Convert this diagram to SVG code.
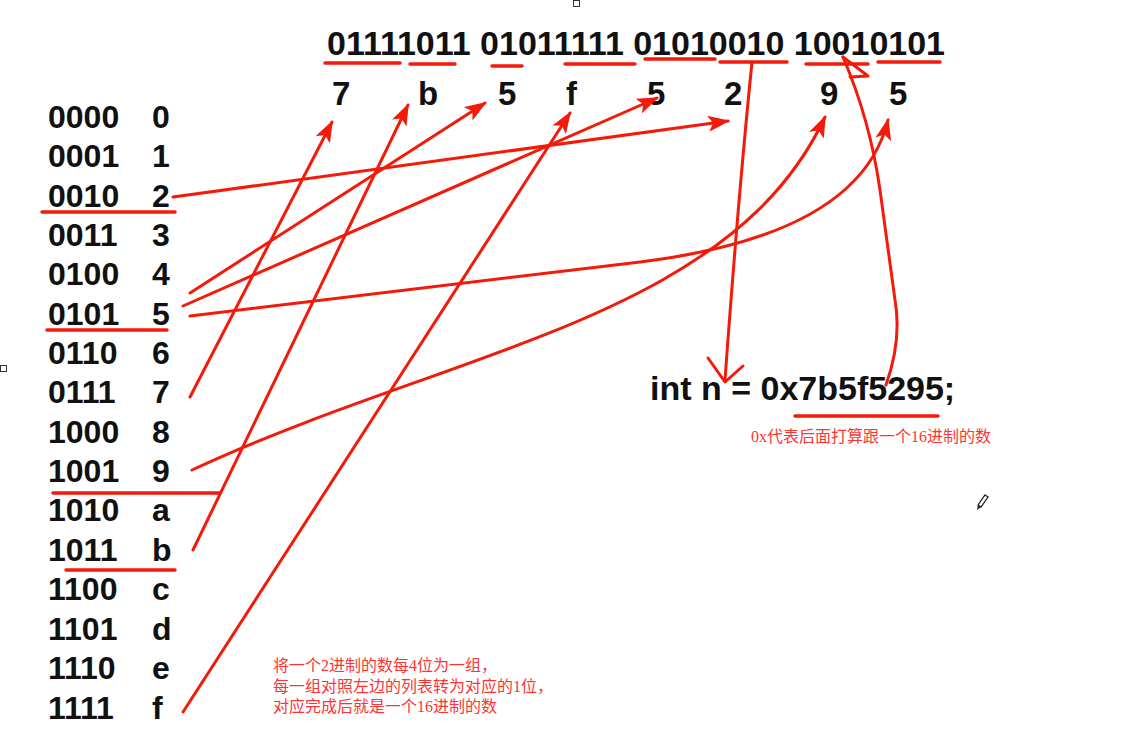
<svg xmlns="http://www.w3.org/2000/svg" width="1138" height="740" viewBox="0 0 1138 740">
<defs>
<style>
.t{font-family:"Liberation Sans",Arial,sans-serif;font-weight:bold;fill:#111;}
.big{font-size:33px;}
.tb{font-size:32px;}
.note{font-family:"Liberation Serif","Noto Sans CJK SC",serif;fill:#ff3333;}
.ln{fill:none;stroke:#f41a0a;stroke-width:3;stroke-linecap:round;stroke-linejoin:round;}
.ul{fill:none;stroke:#f41a0a;stroke-width:3.5;stroke-linecap:round;}
.arr{marker-end:url(#ah);}
</style>
<marker id="ah" markerUnits="userSpaceOnUse" markerWidth="24" markerHeight="16" refX="20" refY="8" orient="auto">
<path d="M0,0 L22,8 L0,16 L5,8 Z" fill="#f41a0a"/>
</marker>
</defs>
<rect width="1138" height="740" fill="#ffffff"/>

<g id="binary">
<text class="t" x="327" y="55" font-size="34" textLength="618">01111011 01011111 01010010 10010101</text>
</g>
<g id="hexrow" class="t big">
<text x="332" y="105">7</text>
<text x="418" y="105">b</text>
<text x="498" y="105">5</text>
<text x="566" y="105">f</text>
<text x="647" y="105">5</text>
<text x="724" y="105">2</text>
<text x="820" y="105">9</text>
<text x="889" y="105">5</text>
</g>

<g id="table" class="t tb">
<text x="48" y="128">0000</text><text x="152" y="128">0</text>
<text x="48" y="167">0001</text><text x="152" y="167">1</text>
<text x="48" y="207">0010</text><text x="152" y="207">2</text>
<text x="48" y="246">0011</text><text x="152" y="246">3</text>
<text x="48" y="285">0100</text><text x="152" y="285">4</text>
<text x="48" y="325">0101</text><text x="152" y="325">5</text>
<text x="48" y="364">0110</text><text x="152" y="364">6</text>
<text x="48" y="403">0111</text><text x="152" y="403">7</text>
<text x="48" y="443">1000</text><text x="152" y="443">8</text>
<text x="48" y="482">1001</text><text x="152" y="482">9</text>
<text x="48" y="521">1010</text><text x="152" y="521">a</text>
<text x="48" y="561">1011</text><text x="152" y="561">b</text>
<text x="48" y="600">1100</text><text x="152" y="600">c</text>
<text x="48" y="640">1101</text><text x="152" y="640">d</text>
<text x="48" y="679">1110</text><text x="152" y="679">e</text>
<text x="48" y="719">1111</text><text x="152" y="719">f</text>
</g>

<g id="code">
<text class="t" x="650" y="400" font-size="34">int n = 0x7b5f5295;</text>
</g>

<g id="note1">
<text class="note" x="751" y="442" font-size="16">0x代表后面打算跟一个16进制的数</text>
</g>
<g id="note2" class="note" font-size="16">
<text x="273" y="671">将一个2进制的数每4位为一组，</text>
<text x="273" y="692">每一组对照左边的列表转为对应的1位，</text>
<text x="273" y="712">对应完成后就是一个16进制的数</text>
</g>

<g id="underlines">
<path class="ul" d="M325,63 L400,63"/>
<path class="ul" d="M410,64 L455,64"/>
<path class="ul" d="M492,66 L522,66"/>
<path class="ul" d="M565,64 L635,64"/>
<path class="ul" d="M645,59 L715,59"/>
<path class="ul" d="M720,62 L787,62"/>
<path class="ul" d="M806,64 L868,64"/>
<path class="ul" d="M878,62 L940,62"/>
<path class="ul" d="M42,212 L175,212"/>
<path class="ul" d="M47,330 L167,330"/>
<path class="ul" d="M53,493 L220,493"/>
<path class="ul" d="M66,570 L175,570"/>
<path class="ul" d="M795,416 L938,416"/>
</g>

<g id="connectors">
<path class="ln arr" d="M190,397 L332,122"/>
<path class="ln arr" d="M193,550 L408,105"/>
<path class="ln arr" d="M190,293 L485,103"/>
<path class="ln arr" d="M183,306 L657,98"/>
<path class="ln arr" d="M190,316 L640,262 Q860,235 888,120"/>
<path class="ln arr" d="M192,470 C450,350 730,320 825,117"/>
<path class="ln arr" d="M173,197 L728,121"/>
<path class="ln arr" d="M183,712 L570,113"/>
<path class="ln" d="M752,62 Q738,200 725,380"/>
<path class="ln" d="M708,358 L725,382 L743,366"/>
<path class="ln" d="M886,385 Q902,340 895,300 L880,190 Q870,120 843,57"/>
<path class="ln" d="M843,57 L868,76 L850,77"/>
</g>

<g id="icons">
<rect x="573.5" y="0.5" width="6" height="6" fill="#fff" stroke="#333" stroke-width="1"/>
<rect x="0.5" y="365.5" width="6" height="6" fill="#fff" stroke="#333" stroke-width="1"/>
<g transform="translate(976,494)">
<path d="M9,1 L12,3 L5,13 L2,11 Z" fill="none" stroke="#222" stroke-width="1.3"/>
<path d="M2,11 L1,16 L5,13 Z" fill="#222"/>
</g>
</g>
</svg>
